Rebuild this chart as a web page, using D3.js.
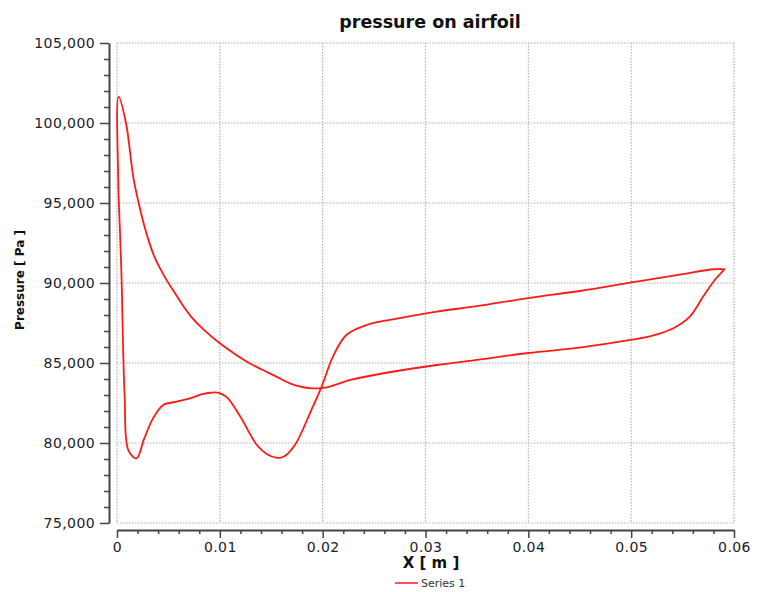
<!DOCTYPE html>
<html>
<head>
<meta charset="utf-8">
<script src="https://cdn.jsdelivr.net/npm/d3@7"></script>
<style>
  body { margin: 0; background: #fff; }
  text { font-family: "DejaVu Sans", Verdana, sans-serif; }
</style>
</head>
<body>
<script>
// smooth surface: from the leading edge peak down to the minimum and on to the trailing edge
const surfaceAX = [0.00015, 0.00085, 0.0016, 0.0021, 0.0026, 0.0031, 0.0036, 0.0042, 0.0049, 0.0056, 0.0064, 0.0072, 0.0084, 0.0100, 0.0115, 0.0129, 0.0142, 0.0155, 0.0168, 0.0180, 0.0191, 0.0204, 0.0227, 0.0259, 0.0311, 0.035, 0.040, 0.045, 0.0499, 0.052, 0.0541, 0.0557, 0.0570, 0.0580, 0.0591];
const surfaceAP = [101650, 100080, 96560, 95020, 93700, 92600, 91700, 90900, 90100, 89400, 88600, 87900, 87100, 86230, 85550, 84980, 84560, 84150, 83730, 83500, 83420, 83480, 83940, 84360, 84875, 85190, 85625, 85960, 86440, 86700, 87170, 87900, 89150, 90080, 90860];

// surface with the dips: from the leading edge down through both dips and up to the trailing edge
const surfaceBX = [0.00015, 0.00012, 0.0003, 0.00045, 0.0006, 0.00075, 0.0011, 0.0019, 0.0026, 0.0035, 0.0045, 0.0058, 0.0071, 0.0083, 0.0091, 0.0099, 0.0107, 0.0120, 0.0136, 0.0146, 0.0155, 0.0162, 0.0173, 0.0189, 0.0199, 0.0210, 0.0223, 0.0243, 0.0275, 0.0311, 0.035, 0.040, 0.045, 0.0505, 0.055, 0.0580, 0.0591];
const surfaceBP = [101650, 96500, 93000, 90200, 85800, 82800, 79560, 79040, 80190, 81540, 82375, 82580, 82790, 83050, 83140, 83140, 82850, 81640, 79875, 79300, 79080, 79140, 79875, 82060, 83520, 85400, 86750, 87380, 87800, 88210, 88550, 89060, 89500, 90080, 90550, 90860, 90860];

const xTicks = [0, 0.01, 0.02, 0.03, 0.04, 0.05, 0.06];
const yTicks = [75000, 80000, 85000, 90000, 95000, 100000, 105000];

const width = 759, height = 592;

const svg = d3.select("body")
    .append("svg")
    .attr("width", width)
    .attr("height", height);

const x = d3.scaleLinear().domain([0, 0.06]).range([117, 734]);
const y = d3.scaleLinear().domain([75000, 105000]).range([523, 43]);

// grid
const grid = svg.append("g")
    .attr("stroke", "#b4b4b4")
    .attr("stroke-width", 1.2)
    .attr("stroke-dasharray", "1.5,1.5");

grid.selectAll("line.v")
    .data(xTicks)
    .enter()
    .append("line")
    .attr("class", "v")
    .attr("x1", d => x(d))
    .attr("x2", d => x(d))
    .attr("y1", y(105000))
    .attr("y2", y(75000));

grid.selectAll("line.h")
    .data(yTicks)
    .enter()
    .append("line")
    .attr("class", "h")
    .attr("x1", x(0))
    .attr("x2", x(0.06))
    .attr("y1", d => y(d))
    .attr("y2", d => y(d));

// axes
const minorX = d3.range(0, 0.0601, 0.002).filter(v => Math.abs(v * 100 - Math.round(v * 100)) > 1e-6);
const minorY = d3.range(75000, 105001, 1000).filter(v => v % 5000 !== 0);

svg.append("g")
    .attr("transform", "translate(0,530)")
    .call(d3.axisBottom(x)
        .tickValues(xTicks)
        .tickSize(8)
        .tickSizeOuter(0)
        .tickPadding(4)
        .tickFormat(d => d === 0 ? "0" : d3.format(".2f")(d)));

svg.append("g")
    .attr("transform", "translate(0,530)")
    .call(d3.axisBottom(x).tickValues(minorX).tickSize(4).tickSizeOuter(0).tickFormat(""))
    .call(g => g.select(".domain").remove());

svg.append("g")
    .attr("transform", "translate(109,0)")
    .call(d3.axisLeft(y)
        .tickValues(yTicks)
        .tickSize(9)
        .tickSizeOuter(0)
        .tickPadding(5)
        .tickFormat(d3.format(",")));

svg.append("g")
    .attr("transform", "translate(109,0)")
    .call(d3.axisLeft(y).tickValues(minorY).tickSize(5).tickSizeOuter(0).tickFormat(""))
    .call(g => g.select(".domain").remove());

svg.selectAll(".domain").attr("stroke", "#444").attr("stroke-width", 2);
svg.selectAll(".tick line").attr("stroke", "#444").attr("stroke-width", 1.5);
svg.selectAll(".tick text")
    .attr("fill", "#1c1c2a")
    .style("font-size", "14px")
    .style("letter-spacing", "0.4px");

// curve: one closed loop, trailing edge -> smooth surface -> leading edge -> dip surface -> trailing edge
const loop = surfaceAX.map((v, i) => [v, surfaceAP[i]]).reverse()
    .concat(surfaceBX.map((v, i) => [v, surfaceBP[i]]).slice(1));

const line = d3.line()
    .x(d => x(d[0]))
    .y(d => y(d[1]))
    .curve(d3.curveCatmullRom.alpha(0.5));

svg.append("path")
    .datum(loop)
    .attr("fill", "none")
    .attr("stroke", "#ff1a1a")
    .attr("stroke-width", 1.8)
    .attr("stroke-linejoin", "round")
    .attr("d", line);

// titles
svg.append("text")
    .attr("x", 430)
    .attr("y", 28)
    .attr("text-anchor", "middle")
    .style("font-size", "17.5px")
    .style("font-weight", "bold")
    .attr("fill", "#111")
    .text("pressure on airfoil");

svg.append("text")
    .attr("transform", "translate(24,280) rotate(-90)")
    .attr("text-anchor", "middle")
    .style("font-size", "12px")
    .style("font-weight", "bold")
    .attr("fill", "#111")
    .text("Pressure [ Pa ]");

svg.append("text")
    .attr("x", 431)
    .attr("y", 568)
    .attr("text-anchor", "middle")
    .style("font-size", "15px")
    .style("font-weight", "bold")
    .attr("fill", "#111")
    .text("X [ m ]");

// legend
svg.append("line")
    .attr("x1", 395)
    .attr("x2", 418)
    .attr("y1", 583)
    .attr("y2", 583)
    .attr("stroke", "#ff1a1a")
    .attr("stroke-width", 1.5);

svg.append("text")
    .attr("x", 421)
    .attr("y", 587)
    .style("font-size", "11px")
    .attr("fill", "#333")
    .text("Series 1");
</script>
</body>
</html>
